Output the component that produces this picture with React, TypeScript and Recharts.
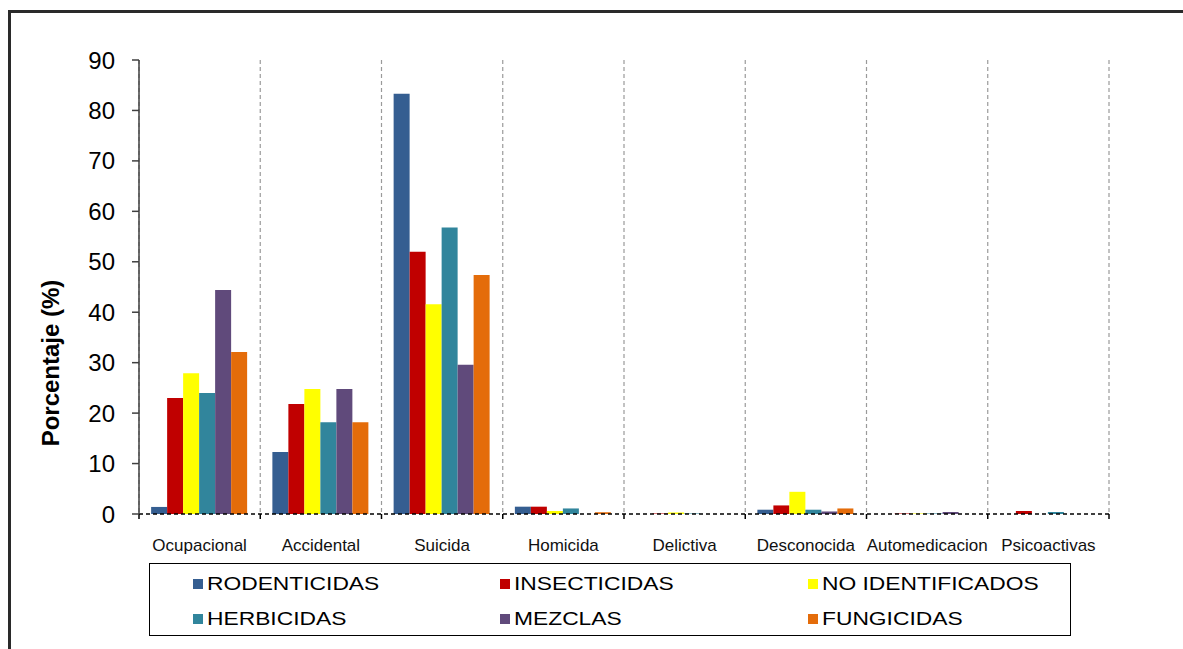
import React from 'react';
import { BarChart, Bar, XAxis, YAxis, CartesianGrid, Legend } from 'recharts';

// Causes of poisoning, percentage per pesticide group
const categories = [
  'Ocupacional',
  'Accidental',
  'Suicida',
  'Homicida',
  'Delictiva',
  'Desconocida',
  'Automedicacion',
  'Psicoactivas',
];
const rodenticidas = [1.4, 12.3, 83.3, 1.45, 0, 0.85, 0, 0];
const insecticidas = [23.0, 21.8, 52.0, 1.45, 0.1, 1.7, 0.1, 0.6];
const noIdentificados = [27.9, 24.8, 41.6, 0.6, 0.3, 4.4, 0.1, 0];
const herbicidas = [24.0, 18.2, 56.8, 1.1, 0.1, 0.85, 0.1, 0.4];
const mezclas = [44.4, 24.8, 29.6, 0, 0, 0.5, 0.4, 0];
const fungicidas = [32.1, 18.2, 47.4, 0.35, 0, 1.1, 0, 0];

const yTicks = [0, 10, 20, 30, 40, 50, 60, 70, 80, 90];
// category boundaries on a continuous 0..8 scale
const boundaryTicks = [0, 1, 2, 3, 4, 5, 6, 7, 8];

const series = [
  { key: 'rod', name: 'RODENTICIDAS', values: rodenticidas, color: '#355E91' },
  { key: 'ins', name: 'INSECTICIDAS', values: insecticidas, color: '#C00000' },
  { key: 'noid', name: 'NO IDENTIFICADOS', values: noIdentificados, color: '#FFFF00' },
  { key: 'herb', name: 'HERBICIDAS', values: herbicidas, color: '#31859C' },
  { key: 'mez', name: 'MEZCLAS', values: mezclas, color: '#604A7B' },
  { key: 'fung', name: 'FUNGICIDAS', values: fungicidas, color: '#E46C0A' },
];

const data = categories.map((name, i) => {
  const row: Record<string, any> = { name, pos: i + 0.5 };
  series.forEach((s) => {
    row[s.key] = s.values[i];
  });
  return row;
});

const FONT = '"Liberation Sans", Arial, Helvetica, sans-serif';

const YTitle = (props: any) => {
  const vb = props.viewBox || { x: 20, y: 60, width: 119, height: 454 };
  const x = vb.x + 39;
  const y = vb.y + vb.height / 2 + 76;
  return (
    <text
      x={x}
      y={y}
      transform={`rotate(-90, ${x}, ${y})`}
      textAnchor="middle"
      fontSize={24}
      fontWeight="bold"
      fill="#000"
      fontFamily={FONT}
    >
      Porcentaje (%)
    </text>
  );
};

// Legend drawn in series order, two rows of three
const LegendBox = () => (
  <div
    style={{
      boxSizing: 'border-box',
      width: 922,
      height: 73,
      border: '1px solid #000',
      paddingLeft: 43,
      paddingTop: 2,
      display: 'grid',
      gridTemplateColumns: '307px 308px 1fr',
      gridAutoRows: '35px',
      fontFamily: FONT,
      background: '#fff',
    }}
  >
    {series.map((s) => (
      <div key={s.key} style={{ display: 'flex', alignItems: 'center' }}>
        <span
          style={{
            display: 'inline-block',
            width: 10,
            height: 10,
            background: s.color,
            marginRight: 4,
            flex: 'none',
          }}
        />
        <span
          style={{
            display: 'inline-block',
            fontSize: 19,
            color: '#000',
            transform: 'scaleX(1.2)',
            transformOrigin: 'left center',
            whiteSpace: 'nowrap',
            lineHeight: '20px',
          }}
        >
          {s.name}
        </span>
      </div>
    ))}
  </div>
);

export default function App() {
  return (
    <div
      style={{
        position: 'absolute',
        left: 0,
        top: 0,
        width: 1183,
        height: 649,
        overflow: 'hidden',
        background: '#fff',
      }}
    >
      <div
        style={{
          position: 'absolute',
          left: 8,
          top: 10,
          width: 1300,
          height: 800,
          borderLeft: '3px solid #2a2a2a',
          borderTop: '3px solid #2a2a2a',
        }}
      />
      <div style={{ position: 'absolute', left: 0, top: 0 }}>
        <BarChart
          width={1183}
          height={649}
          data={data}
          margin={{ top: 60, right: 74, left: 20, bottom: 94 }}
          barCategoryGap="10%"
          barGap={0}
          style={{ fontFamily: FONT }}
        >
          {/* boundary axis: dashed baseline with separator ticks */}
          <XAxis
            xAxisId={0}
            dataKey="pos"
            type="number"
            domain={[0, 8]}
            allowDataOverflow
            ticks={boundaryTicks}
            interval={0}
            height={1}
            tickSize={5}
            tickFormatter={() => ''}
            axisLine={{ stroke: '#000', strokeWidth: 1.5, strokeDasharray: '4 3' }}
            tickLine={{ stroke: '#000', strokeWidth: 1.5 }}
          />
          {/* category axis: labels only */}
          <XAxis
            xAxisId={1}
            dataKey="name"
            type="category"
            height={40}
            interval={0}
            axisLine={false}
            tickLine={false}
            tickSize={0}
            tickMargin={24}
            tick={{ fontSize: 17, fill: '#111', fontFamily: FONT }}
          />
          <YAxis
            width={119}
            domain={[0, 90]}
            ticks={yTicks}
            interval={0}
            allowDataOverflow
            tickSize={7}
            tickMargin={17}
            axisLine={{ stroke: '#404040', strokeWidth: 1.5 }}
            tickLine={{ stroke: '#404040', strokeWidth: 1.5 }}
            tick={{ fontSize: 24, fill: '#000', fontFamily: FONT }}
            label={<YTitle />}
          />
          <CartesianGrid
            xAxisId={0}
            horizontal={false}
            vertical
            stroke="#9a9a9a"
            strokeWidth={1.2}
            strokeDasharray="4 3"
          />
          {series.map((s) => (
            <Bar
              key={s.key}
              xAxisId={1}
              dataKey={s.key}
              name={s.name}
              fill={s.color}
              isAnimationActive={false}
            />
          ))}
          <Legend
            layout="horizontal"
            align="center"
            verticalAlign="middle"
            wrapperStyle={{ left: 149, top: 563, width: 922, height: 73 }}
            content={<LegendBox />}
          />
        </BarChart>
      </div>
    </div>
  );
}
